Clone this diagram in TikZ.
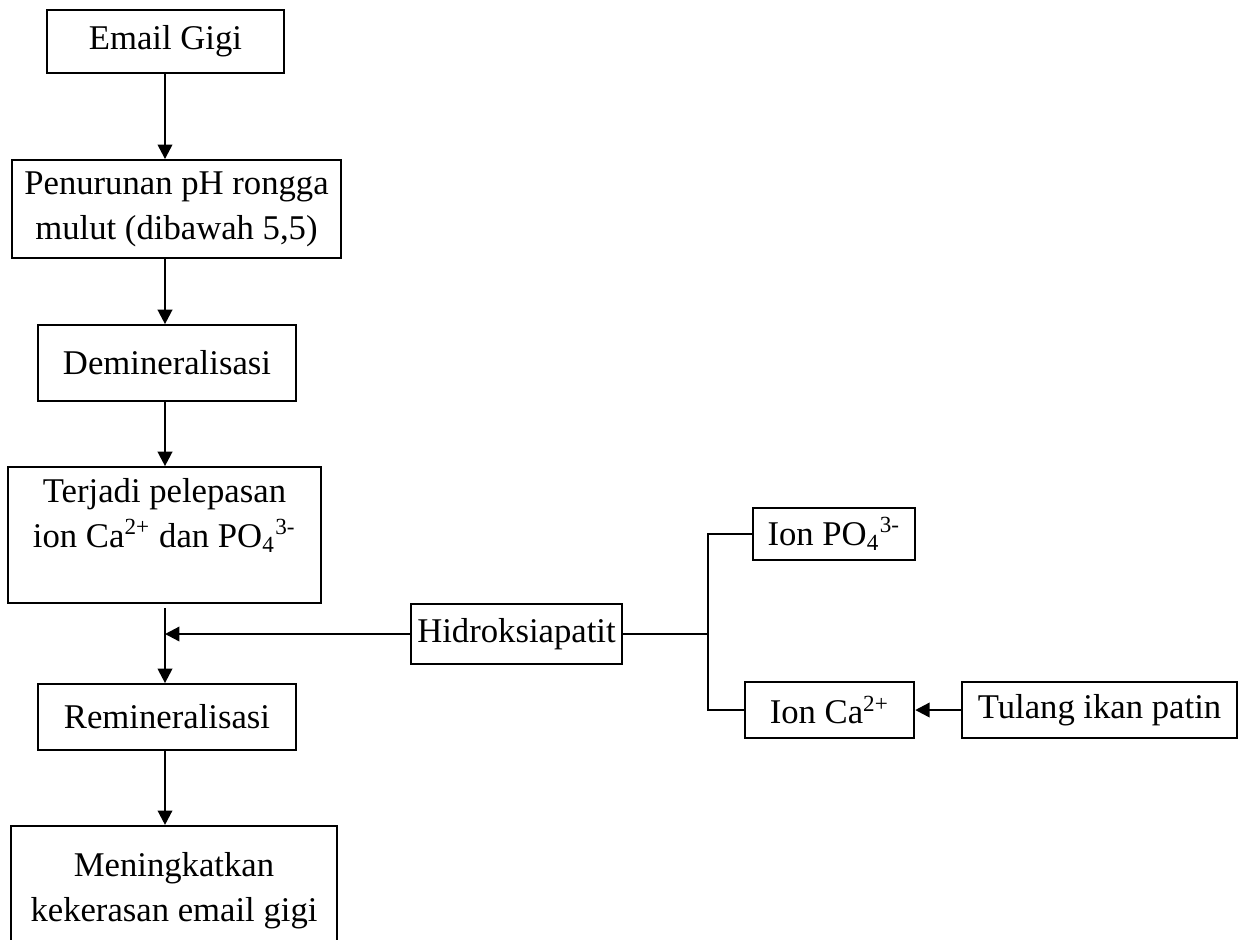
\documentclass[tikz,border=0pt]{standalone}
\usepackage{fontspec}
\setmainfont{Liberation Serif}
\usetikzlibrary{positioning,arrows.meta}

\begin{document}
\begin{tikzpicture}[
      x=0.01216cm,y=-0.01216cm,
      font=\fontsize{12pt}{15.5pt}\selectfont,
      kotak/.style={
        draw,
        line width=0.7pt,
        align=center,
        inner sep=2pt
      },
      panah/.style={
        line width=0.8pt,
        -{Triangle[length=5pt,width=5pt]}
      },
      garis/.style={
        line width=0.4pt
      }
      ]
      \clip (0,0) rectangle (1243,939);

      \node[kotak,minimum width=2.88cm,minimum height=0.77cm] at (165.5,41.5)
        (email) {Email Gigi};
      \node[kotak,minimum width=4.00cm,minimum height=1.19cm] at (176.5,209)
        (turun) {Penurunan pH rongga\\ mulut (dibawah 5,5)};
      \node[kotak,minimum width=3.14cm,minimum height=0.92cm] at (167,363)
        (demin) {Demineralisasi};
      \node[kotak,minimum width=3.81cm,minimum height=1.65cm] at (164.5,535)
        (lepas) {Terjadi pelepasan\\ ion Ca\textsuperscript{2+} dan PO\textsubscript{4}\textsuperscript{3-}\\ \mbox{}};
      \node[kotak,minimum width=3.14cm,minimum height=0.80cm] at (167,717)
        (remin) {Remineralisasi};
      \node[kotak,minimum width=3.96cm,minimum height=2.02cm] at (174,909)
        (keras) {Meningkatkan\\ kekerasan email gigi\\ \mbox{}};

      \node[kotak,minimum width=2.57cm,minimum height=0.73cm] at (516.5,634)
        (hidro) {Hidroksiapatit};
      \node[kotak,minimum width=1.97cm,minimum height=0.63cm] at (834,534)
        (fosfat) {Ion PO\textsubscript{4}\textsuperscript{3-}};
      \node[kotak,minimum width=2.06cm,minimum height=0.67cm] at (829.5,710)
        (kalsium) {Ion Ca\textsuperscript{2+}};
      \node[kotak,minimum width=3.34cm,minimum height=0.69cm] at (1099.5,710)
        (patin) {Tulang ikan patin};

      \coordinate (tulang) at (165,0);
      \coordinate (cabang) at (708,0);

      % alur utama
      \draw[panah] (tulang |- email.south) -- (tulang |- turun.north);
      \draw[panah] (tulang |- turun.south) -- (tulang |- demin.north);
      \draw[panah] (tulang |- demin.south) -- (tulang |- lepas.north);
      \draw[panah] ([yshift=-1.5pt]tulang |- lepas.south) -- (tulang |- remin.north);
      \draw[panah] (tulang |- remin.south) -- (tulang |- keras.north);

      \draw[panah] (hidro.west) -- (tulang |- hidro.west);
      \draw[panah] (patin.west) -- (kalsium.east);

      % percabangan hidroksiapatit
      \draw[garis] (hidro.east) -- (cabang |- hidro.east);
      \draw[garis] (fosfat.west) -- (cabang |- fosfat.west) -- (cabang |- kalsium.west) -- (kalsium.west);
    \end{tikzpicture}
\end{document}
